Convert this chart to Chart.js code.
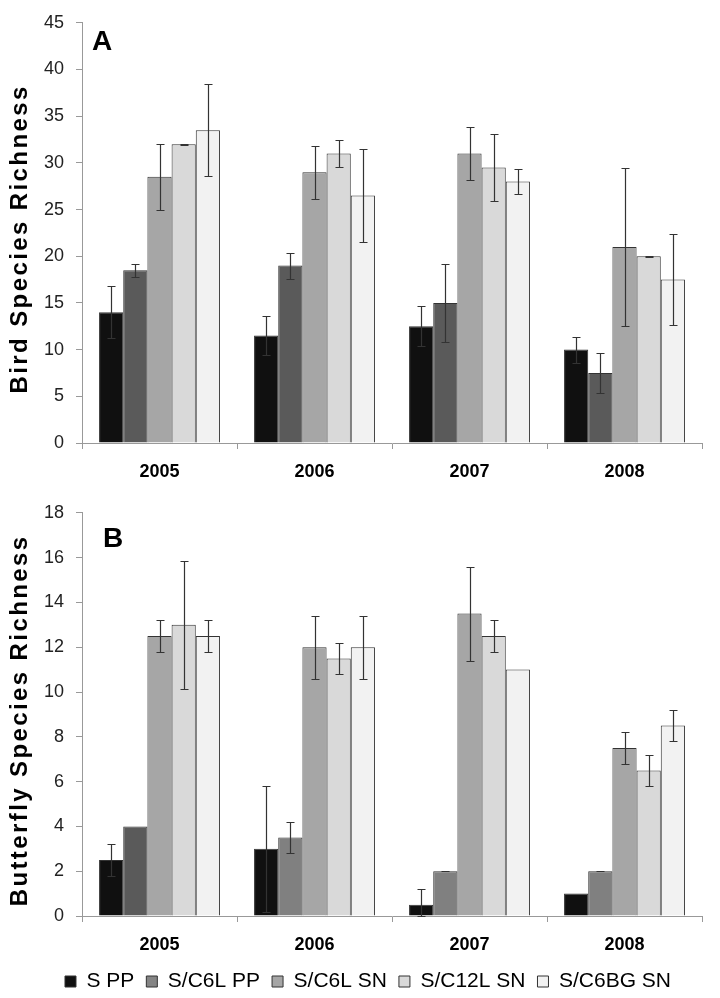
<!DOCTYPE html>
<html>
<head>
<meta charset="utf-8">
<script src="https://cdn.jsdelivr.net/npm/chart.js@4.4.0/dist/chart.umd.min.js"></script>
<style>
  html, body { margin: 0; padding: 0; background: #fff; overflow: hidden; }
  #birdWrap { position: absolute; left: 0; top: 0; }
  #butterflyWrap { position: absolute; left: 0; top: 490px; }
</style>
</head>
<body>
<div id="birdWrap"><canvas id="birdChart" width="720" height="490"></canvas></div>
<div id="butterflyWrap"><canvas id="butterflyChart" width="720" height="512"></canvas></div>
<script>
const years = ['2005', '2006', '2007', '2008'];
const treatments = ['S PP', 'S/C6L PP', 'S/C6L SN', 'S/C12L SN', 'S/C6BG SN'];

// Bird species richness (means and error half-widths, per treatment)
const birdSPP = [14, 11.5, 12.5, 10];
const birdSPPErr = [2.8, 2.1, 2.15, 1.4];
const birdC6LPP = [18.5, 19, 15, 7.5];
const birdC6LPPErr = [0.7, 1.4, 4.2, 2.15];
const birdC6LSN = [28.5, 29, 31, 21];
const birdC6LSNErr = [3.5, 2.85, 2.85, 8.5];
const birdC12LSN = [32, 31, 29.5, 20];
const birdC12LSNErr = [0.05, 1.4, 3.55, 0.05];
const birdC6BGSN = [33.5, 26.5, 28, 17.5];
const birdC6BGSNErr = [4.9, 5, 1.35, 4.9];

// Butterfly species richness
const butSPP = [2.5, 3, 0.5, 1];
const butSPPErr = [0.7, 2.8, 0.7, null];
const butC6LPP = [4, 3.5, 2, 2];
const butC6LPPErr = [null, 0.7, 0, 0];
const butC6LSN = [12.5, 12, 13.5, 7.5];
const butC6LSNErr = [0.7, 1.4, 2.1, 0.7];
const butC12LSN = [13, 11.5, 12.5, 6.5];
const butC12LSNErr = [2.85, 0.7, 0.7, 0.7];
const butC6BGSN = [12.5, 12, 11, 8.5];
const butC6BGSNErr = [0.7, 1.4, null, 0.7];

const fills = ['#101010', '#5a5a5a', '#a6a6a6', '#d9d9d9', '#f2f2f2'];
const FONT = 'Arial, "Liberation Sans", sans-serif';

// whiskers from the bar centre, through the y scale
const errorBars = {
  id: 'errorBars',
  afterDatasetsDraw(chart) {
    const ctx = chart.ctx;
    const y = chart.scales.y;
    ctx.save();
    ctx.strokeStyle = '#333';
    ctx.lineWidth = 1.2;
    chart.data.datasets.forEach((ds, i) => {
      chart.getDatasetMeta(i).data.forEach((bar, j) => {
        const e = ds.errors[j];
        if (e == null) return;
        const v = ds.data[j];
        const x = Math.round(bar.x) + 0.5;
        const top = Math.round(y.getPixelForValue(v + e)) + 0.5;
        const bot = Math.round(y.getPixelForValue(Math.max(0, v - e))) + 0.5;
        ctx.beginPath();
        ctx.moveTo(x, top); ctx.lineTo(x, bot);
        ctx.moveTo(x - 4, top); ctx.lineTo(x + 4, top);
        ctx.moveTo(x - 4, bot); ctx.lineTo(x + 4, bot);
        ctx.stroke();
      });
    });
    ctx.restore();
  }
};

const panelLabel = {
  id: 'panelLabel',
  afterDraw(chart, args, opts) {
    const ctx = chart.ctx;
    ctx.save();
    ctx.font = 'bold 28px ' + FONT;
    ctx.fillStyle = '#000';
    ctx.textBaseline = 'alphabetic';
    ctx.fillText(opts.text, chart.chartArea.left + opts.dx, opts.y);
    ctx.restore();
  }
};

// rotated y title with a bit of letter spacing (the original is spaced out)
const yTitle = {
  id: 'yTitle',
  afterDraw(chart, args, opts) {
    const ctx = chart.ctx;
    const ca = chart.chartArea;
    ctx.save();
    ctx.font = 'bold 24px ' + FONT;
    ctx.letterSpacing = '2.4px';
    ctx.fillStyle = '#000';
    ctx.textAlign = 'center';
    ctx.textBaseline = 'alphabetic';
    ctx.translate(27, (ca.top + ca.bottom) / 2 + 6);
    ctx.rotate(-Math.PI / 2);
    ctx.fillText(opts.text, 0, 0);
    ctx.restore();
  }
};

// nudge the legend row to the right, like the original
const legendShift = {
  id: 'legendShift',
  afterLayout(chart, args, opts) {
    if (chart.legend && opts.dx) {
      chart.legend.left += opts.dx;
      chart.legend.right += opts.dx;
    }
  }
};

function makeDatasets(series, errs, colorFns) {
  return treatments.map((t, i) => ({
    label: t,
    data: series[i],
    errors: errs[i],
    backgroundColor: colorFns[i],
    borderColor: '#333',
    borderWidth: 1,
    categoryPercentage: 0.78,
    barPercentage: 1.0
  }));
}

function legendLabels(chart) {
  const items = Chart.defaults.plugins.legend.labels.generateLabels(chart);
  items.forEach((it, i) => {
    if (i === 1) it.fillStyle = '#858585';
  });
  return items;
}

function drawChart(id, opts) {
  const ctx = document.getElementById(id).getContext('2d');
  return new Chart(ctx, {
    type: 'bar',
    data: { labels: years, datasets: opts.datasets },
    plugins: [errorBars, panelLabel, yTitle, legendShift],
    options: {
      responsive: false,
      animation: false,
      layout: { padding: { left: 0, right: 18, top: opts.padTop, bottom: 0 } },
      plugins: {
        tooltip: { enabled: false },
        panelLabel: { text: opts.panel, dx: opts.panelDx, y: opts.panelY },
        yTitle: { text: opts.title },
        legendShift: { dx: 17 },
        legend: {
          display: opts.legend,
          position: 'bottom',
          labels: {
            font: { family: FONT, size: 21 },
            color: '#000',
            boxWidth: 11,
            boxHeight: 11,
            padding: 12,
            generateLabels: legendLabels
          }
        }
      },
      scales: {
        x: {
          afterFit: s => { s.height = opts.xHeight; },
          grid: { display: true, drawOnChartArea: false, tickLength: 6, color: '#999', offset: true },
          border: { color: '#999' },
          ticks: { font: { family: FONT, size: 18, weight: 'bold' }, color: '#000', padding: 12 }
        },
        y: {
          min: 0,
          max: opts.max,
          afterFit: s => { s.width = 82; },
          grid: { display: true, drawOnChartArea: false, tickLength: 6, color: '#999' },
          border: { color: '#999' },
          ticks: { stepSize: opts.step, font: { family: FONT, size: 18 }, color: '#222', padding: 12 }
        }
      }
    }
  });
}

const c = i => fills[i];

drawChart('birdChart', {
  datasets: makeDatasets(
    [birdSPP, birdC6LPP, birdC6LSN, birdC12LSN, birdC6BGSN],
    [birdSPPErr, birdC6LPPErr, birdC6LSNErr, birdC12LSNErr, birdC6BGSNErr],
    [c(0), c(1), c(2), c(3), c(4)]
  ),
  panel: 'A', panelDx: 10, panelY: 50,
  padTop: 17, xHeight: 47, max: 45, step: 5,
  title: 'Bird Species Richness',
  legend: false
});

// in panel B the S/C6L PP bars are lighter except in 2005
const butC6LPPColor = ctx => (ctx.dataIndex === 0 ? '#5a5a5a' : '#808080');

drawChart('butterflyChart', {
  datasets: makeDatasets(
    [butSPP, butC6LPP, butC6LSN, butC12LSN, butC6BGSN],
    [butSPPErr, butC6LPPErr, butC6LSNErr, butC12LSNErr, butC6BGSNErr],
    [c(0), butC6LPPColor, c(2), c(3), c(4)]
  ),
  panel: 'B', panelDx: 21, panelY: 57,
  padTop: 20.5, xHeight: 43, max: 18, step: 2,
  title: 'Butterfly Species Richness',
  legend: true
});
</script>
</body>
</html>
